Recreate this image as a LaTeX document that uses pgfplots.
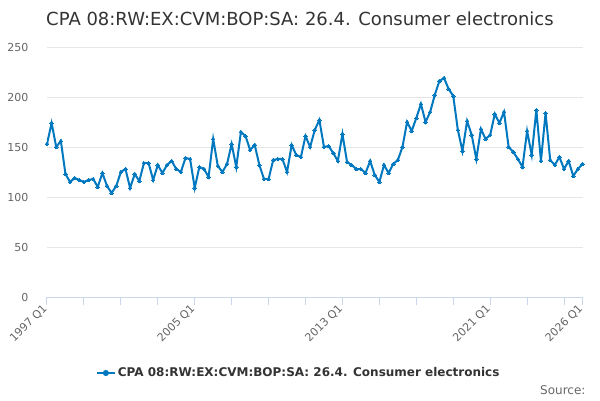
\documentclass[border=0pt]{standalone}
\usepackage{pgfplots}
\pgfplotsset{compat=1.18}
\usepackage{fontspec}
\setmainfont{DejaVu Sans}
\definecolor{linec}{RGB}{0,120,192}
\definecolor{gridc}{HTML}{E6E6E6}
\definecolor{axisc}{HTML}{CCD6EB}
\definecolor{labc}{HTML}{666666}
\definecolor{titc}{HTML}{333333}
\pgfplotstableread{
i v
0 153
1 174
2 150
3 156
4 123
5 115
6 119
7 117
8 115
9 117
10 118
11 110
12 124
13 111
14 104
15 111
16 125
17 128
18 109
19 123
20 116
21 134
22 134
23 117
24 132
25 124
26 132
27 136
28 128
29 125
30 139
31 138
32 109
33 130
34 128
35 120
36 158
37 131
38 125
39 133
40 153
41 130
42 165
43 161
44 147
45 152
46 132
47 118
48 118
49 137
50 138
51 138
52 125
53 152
54 142
55 140
56 161
57 150
58 167
59 177
60 150
61 151
62 144
63 136
64 163
65 135
66 132
67 128
68 128
69 124
70 136
71 122
72 115
73 132
74 124
75 133
76 137
77 150
78 175
79 166
80 179
81 193
82 175
83 185
84 202
85 216
86 219
87 208
88 201
89 167
90 146
91 176
92 162
93 138
94 168
95 158
96 162
97 183
98 174
99 185
100 150
101 145
102 138
103 130
104 166
105 142
106 187
107 136
108 184
109 137
110 132
111 140
112 128
113 136
114 121
115 128
116 133
}\datatable
\begin{document}
\begin{tikzpicture}[x=1pt,y=1pt]
\useasboundingbox (0pt,0pt) rectangle (600pt,400pt);
\node[anchor=base, text=titc, font=\fontsize{18}{20}\selectfont] at (300pt,374pt) {CPA 08:RW:EX:CVM:BOP:SA: 26.4. Consumer electronics};
\node[anchor=base east, text=labc, font=\fontsize{12}{14}\selectfont] at (589pt,6pt) {Source:};
\begin{axis}[
  at={(47pt,103pt)}, anchor=south west,
  scale only axis, width=535.5pt, height=250pt,
  xmin=0, xmax=116, ymin=0, ymax=250,
  ytick={0,50,...,250},
  xtick={0,32,64,96,116},
  xticklabels={1997 Q1,2005 Q1,2013 Q1,2021 Q1,2026 Q1},
  minor xtick={8,16,24,40,48,56,72,80,88,104,112},
  axis x line*=bottom, axis y line*=left,
  y axis line style={draw=none},
  ymajorgrids, grid style={gridc, line width=1pt},
  x axis line style={axisc, line width=1pt, -},
  tick align=outside, major tick length=8pt, minor tick length=8pt,
  xtick style={axisc, line width=1pt},
  minor x tick style={axisc, line width=1pt},
  ytick style={draw=none},
  yticklabel style={text=labc, font=\fontsize{11}{13}\selectfont, xshift=-7pt},
  xticklabel style={text=labc, font=\fontsize{11}{13}\selectfont, rotate=45, anchor=east, xshift=1pt},
  /pgf/number format/assume math mode=true,
  legend style={at={(0.47,-0.304)}, anchor=center, draw=none, fill=none,
    font=\bfseries\fontsize{12}{14}\selectfont, text=titc},
  legend image code/.code={\draw[linec, line width=2pt] (0pt,0pt) -- (18pt,0pt); \fill[linec] (9pt,0pt) circle (2pt);},
]
\addplot[linec, line width=2pt, mark=*, mark size=1.8pt, mark options={fill=linec, draw=none, line width=0pt}] table[x=i, y=v] {\datatable};
\addlegendentry{CPA 08:RW:EX:CVM:BOP:SA: 26.4. Consumer electronics}
\end{axis}
\end{tikzpicture}
\end{document}
